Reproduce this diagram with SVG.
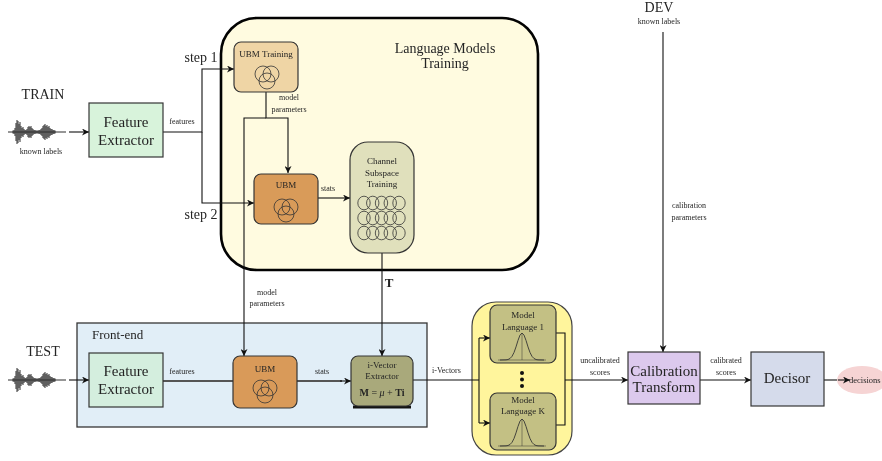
<svg xmlns="http://www.w3.org/2000/svg" xmlns:xlink="http://www.w3.org/1999/xlink" width="882" height="461" viewBox="0 0 882 461">
<style>
  text { font-family: "Liberation Serif", "Times New Roman", serif; fill: #222; }
  .big { font-size: 15px; text-anchor: middle; }
  .mid { font-size: 14px; text-anchor: middle; }
  .sm { font-size: 9px; text-anchor: middle; }
  .xs { font-size: 8px; text-anchor: middle; }
  .box { stroke: #333; stroke-width: 1.2; }
  .wire { fill: none; stroke: #111; stroke-width: 1.1; }
  .wire-a { fill: none; stroke: #111; stroke-width: 1.1; marker-end: url(#arr); }
  .grey { fill: none; stroke: #555; stroke-width: 2; }
  .icon { fill: none; stroke: #333; stroke-width: 0.8; }
</style>
<defs>
  <marker id="arr" viewBox="0 0 10 10" refX="10" refY="5" markerWidth="9" markerHeight="7" markerUnits="userSpaceOnUse" orient="auto">
    <path d="M0,0 L10,5 L0,10 L3,5 z" fill="#111"/>
  </marker>
  <filter id="soft" x="-10%" y="-30%" width="120%" height="160%">
    <feGaussianBlur stdDeviation="0.6"/>
  </filter>
  <!-- speech waveform, centred vertically on y=0 -->
  <g id="wave" filter="url(#soft)">
    <path fill="none" stroke="#2a2a2a" stroke-width="1" d="M0,0H58
      M5,-1.5V1.5M6,-2V2M7,-4V4M8,-9V9M9,-12V12M10,-11V11M11,-8V8M12,-10V10M13,-6V6M14,-4V4M15,-5V5M16,-3V3M17,-2V2M18,-2V2
      M19,-3V3M20,-5V5M21,-6V6M22,-5V5M23,-6V6M24,-4V4M25,-3V3M26,-2V2M27,-2V2M28,-1.5V1.5M29,-1.5V1.5M30,-1.5V1.5M31,-2V2M32,-2V2
      M33,-3V3M34,-4V4M35,-6V6M36,-7V7M37,-8V8M38,-6V6M39,-7V7M40,-5V5M41,-6V6M42,-4V4M43,-3V3M44,-3V3M45,-2V2M46,-2V2M47,-1.5V1.5"/>
  </g>
  <!-- overlapping-circles icon for the UBM boxes -->
  <g id="venn" class="icon">
    <circle cx="-4" cy="-3" r="8"/>
    <circle cx="4" cy="-3" r="8"/>
    <circle cx="0" cy="4" r="8"/>
  </g>
  <!-- row of loops in the subspace block -->
  <g id="loops" class="icon">
    <ellipse cx="0" cy="0" rx="6.2" ry="6.8"/>
    <ellipse cx="8.75" cy="0" rx="6.2" ry="6.8"/>
    <ellipse cx="17.5" cy="0" rx="6.2" ry="6.8"/>
    <ellipse cx="26.25" cy="0" rx="6.2" ry="6.8"/>
    <ellipse cx="35" cy="0" rx="6.2" ry="6.8"/>
  </g>
  <!-- gaussian density sketch, baseline at y=0 -->
  <g id="gauss" fill="none" stroke="#333">
    <path stroke-width="0.5" d="M-24,0H24M0,0V-27"/>
    <path stroke-width="0.9" d="M-22,0 L-16,-0.15 L-14,-0.5 L-12,-1.5 L-10,-3.65 L-8,-7.5 L-6,-13.1 L-4,-19.6 L-2,-24.9 L0,-27 L2,-24.9 L4,-19.6 L6,-13.1 L8,-7.5 L10,-3.65 L12,-1.5 L14,-0.5 L16,-0.15 L22,0"/>
  </g>
</defs>

<rect width="882" height="461" fill="#fff"/>

<!-- containers -->
<g id="frontend" opacity="0.99">
  <rect x="77" y="323" width="350" height="104" fill="#e1eef7" stroke="#333" stroke-width="1.3"/>
  <text x="92" y="339" style="font-size:13px">Front-end</text>
</g>
<g id="lm-training" opacity="0.99">
  <rect x="221" y="18" width="317" height="252" rx="36" fill="#fffbe0" stroke="#000" stroke-width="2.6"/>
  <text class="mid" x="445" y="53">Language Models</text>
  <text class="mid" x="445" y="68">Training</text>
</g>
<g id="models">
  <rect x="472" y="302" width="100" height="153" rx="24" fill="#fff59c" stroke="#444" stroke-width="1.2"/>
</g>

<!-- connectors -->
<g id="connectors">
  <path class="wire-a" d="M69,132H89"/>
  <path class="wire-a" d="M163,132H202V69H234"/>
  <path class="wire-a" d="M202,132V203H254"/>
  <path class="wire-a" d="M266,92V118H288V173"/>
  <path class="wire-a" d="M266,118H244V356"/>
  <path class="wire-a" d="M318,198H350"/>
  <path class="wire-a" d="M382,253V356"/>
  <path class="wire-a" d="M69,380H89"/>
  <path class="grey" d="M163,381H233"/>
  <path class="grey" d="M297,381H342"/>
  <path class="wire-a" d="M340,381H351"/>
  <path class="wire" d="M413,380H479M479,338V423"/>
  <path class="wire-a" d="M479,338H490"/>
  <path class="wire-a" d="M479,423H490"/>
  <path class="wire" d="M556,333H565V425H556"/>
  <path class="wire-a" d="M565,380H628"/>
  <path class="wire-a" d="M663,32V352"/>
  <path class="wire-a" d="M700,380H751"/>
  <path class="wire-a" d="M824,380H850"/>

  <g opacity="0.99">
  <text class="xs" x="182" y="124">features</text>
  <text x="201" y="62" style="font-size:14px" text-anchor="middle">step 1</text>
  <text x="201" y="219" style="font-size:14px" text-anchor="middle">step 2</text>
  <text class="xs" x="289" y="100">model</text>
  <text class="xs" x="289" y="112">parameters</text>
  <text class="xs" x="328" y="191">stats</text>
  <text x="389" y="287" style="font-size:13px;font-weight:bold" text-anchor="middle">T</text>
  <text class="xs" x="267" y="295">model</text>
  <text class="xs" x="267" y="306">parameters</text>
  <text class="xs" x="182" y="374">features</text>
  <text class="xs" x="322" y="374">stats</text>
  <text x="432" y="373" style="font-size:8px">i-Vectors</text>
  <text class="xs" x="600" y="363">uncalibrated</text>
  <text class="xs" x="600" y="375">scores</text>
  <text class="xs" x="689" y="208">calibration</text>
  <text class="xs" x="689" y="220">parameters</text>
  <text class="xs" x="726" y="363">calibrated</text>
  <text class="xs" x="726" y="375">scores</text>
  </g>
</g>

<!-- sources -->
<g id="train" opacity="0.99">
  <text class="mid" x="43" y="99">TRAIN</text>
  <use xlink:href="#wave" x="8" y="132"/>
  <text class="xs" x="41" y="154">known labels</text>
</g>
<g id="test" opacity="0.99">
  <text class="mid" x="43" y="356">TEST</text>
  <use xlink:href="#wave" x="8" y="380"/>
</g>
<g id="dev" opacity="0.99">
  <text class="mid" x="659" y="12">DEV</text>
  <text class="xs" x="659" y="24">known labels</text>
</g>

<!-- processing blocks -->
<g id="fe-train" opacity="0.99">
  <rect class="box" x="89" y="103" width="74" height="54" fill="#d8f3db"/>
  <text class="big" x="126" y="127">Feature</text>
  <text class="big" x="126" y="145">Extractor</text>
</g>
<g id="ubm-training" opacity="0.99">
  <rect class="box" x="234" y="42" width="64" height="50" rx="7" fill="#efd5a5"/>
  <text class="sm" x="266" y="57">UBM Training</text>
  <use xlink:href="#venn" x="267" y="77"/>
</g>
<g id="ubm-train" opacity="0.99">
  <rect class="box" x="254" y="174" width="64" height="50" rx="7" fill="#d99a58"/>
  <text class="sm" x="286" y="188">UBM</text>
  <use xlink:href="#venn" x="286" y="210"/>
</g>
<g id="subspace" opacity="0.99">
  <rect class="box" x="350" y="142" width="64" height="111" rx="18" fill="#e0e0bc"/>
  <text class="sm" x="382" y="164">Channel</text>
  <text class="sm" x="382" y="176">Subspace</text>
  <text class="sm" x="382" y="187">Training</text>
  <use xlink:href="#loops" x="364" y="203"/>
  <use xlink:href="#loops" x="364" y="218"/>
  <use xlink:href="#loops" x="364" y="233"/>
</g>
<g id="fe-test" opacity="0.99">
  <rect class="box" x="89" y="353" width="74" height="54" fill="#d4efde"/>
  <text class="big" x="126" y="376">Feature</text>
  <text class="big" x="126" y="394">Extractor</text>
</g>
<g id="ubm-test" opacity="0.99">
  <rect class="box" x="233" y="356" width="64" height="52" rx="7" fill="#d99a58"/>
  <text class="sm" x="265" y="372">UBM</text>
  <use xlink:href="#venn" x="265" y="391"/>
</g>
<g id="ivector" opacity="0.99">
  <path d="M353,407H411" stroke="#111" stroke-width="3"/>
  <rect class="box" x="351" y="356" width="62" height="50" rx="7" fill="#a9a97a"/>
  <text class="sm" x="382" y="368">i-Vector</text>
  <text class="sm" x="382" y="379">Extractor</text>
  <text class="sm" x="382" y="396" style="font-size:10px"><tspan font-weight="bold">M</tspan> = <tspan font-style="italic">μ</tspan> + <tspan font-weight="bold">Ti</tspan></text>
</g>
<g id="model-1" opacity="0.99">
  <rect class="box" x="490" y="305" width="66" height="58" rx="7" fill="#c3c084"/>
  <text class="sm" x="523" y="318">Model</text>
  <text class="sm" x="523" y="330">Language 1</text>
  <use xlink:href="#gauss" x="522" y="360"/>
</g>
<g id="dots">
  <circle cx="522" cy="373" r="2" fill="#111"/>
  <circle cx="522" cy="379.5" r="2" fill="#111"/>
  <circle cx="522" cy="386" r="2" fill="#111"/>
</g>
<g id="model-k" opacity="0.99">
  <rect class="box" x="490" y="393" width="66" height="57" rx="7" fill="#c3c084"/>
  <text class="sm" x="523" y="403">Model</text>
  <text class="sm" x="523" y="414">Language K</text>
  <use xlink:href="#gauss" x="522" y="446"/>
</g>
<g id="calibration" opacity="0.99">
  <rect class="box" x="628" y="352" width="72" height="52" fill="#dcc9ed"/>
  <text class="big" x="664" y="376">Calibration</text>
  <text class="big" x="664" y="392">Transform</text>
</g>
<g id="decisor" opacity="0.99">
  <rect class="box" x="751" y="352" width="73" height="54" fill="#d5dbeb"/>
  <text class="big" x="787" y="383">Decisor</text>
</g>
<g id="decisions" opacity="0.99">
  <ellipse cx="862" cy="380" rx="25" ry="14" fill="#f6d4d4"/>
  <path class="wire-a" d="M838,380H850"/>
  <text x="849" y="383" style="font-size:8.5px">decisions</text>
</g>
</svg>
